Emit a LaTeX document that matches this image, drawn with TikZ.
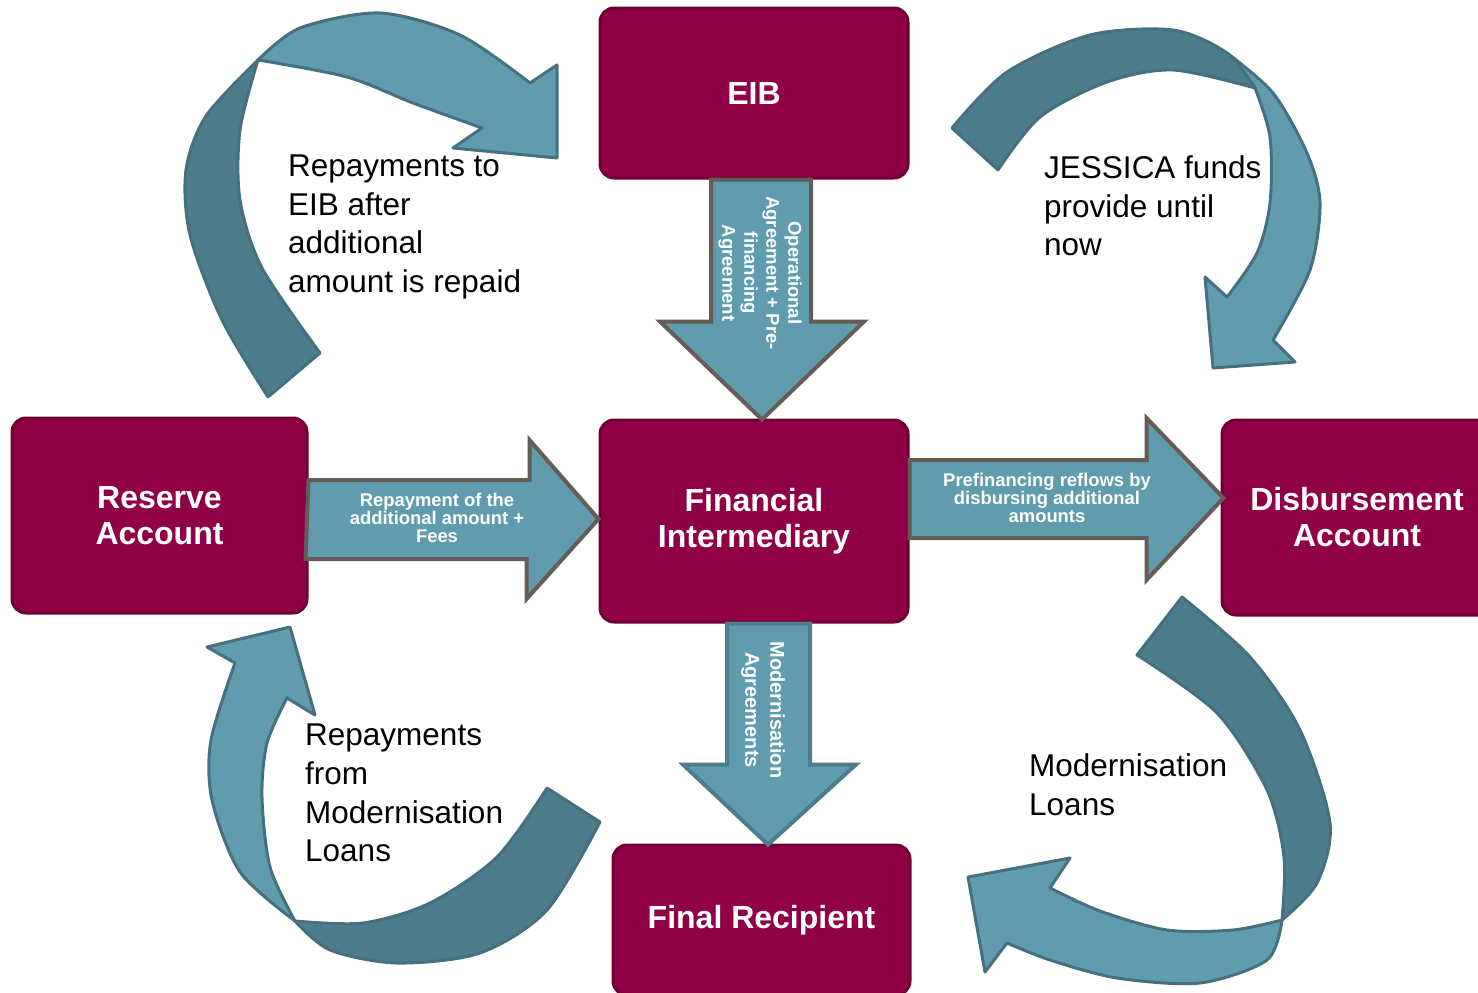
\documentclass[tikz,border=0pt]{standalone}
\usepackage{fontspec}
\setmainfont{Liberation Sans}
\usetikzlibrary{calc}
\definecolor{boxred}{RGB}{143,0,71}
\definecolor{boxedge}{RGB}{112,0,52}
\definecolor{tealfront}{RGB}{96,156,174}
\definecolor{tealback}{RGB}{77,124,138}
\definecolor{tealedge}{RGB}{70,112,128}
\definecolor{greyedge}{RGB}{100,92,85}
\begin{document}
\begin{tikzpicture}[
              x = 1pt, y = -1pt,
              box/.style = {draw = boxedge, line width = 3pt, fill = boxred, rounded corners = 14pt,
                            text = white, align = center, inner sep = 0pt,
                            font = \fontsize{32}{36}\selectfont\bfseries},
              blockarrow/.style = {draw = greyedge, line width = 4pt, fill = tealfront},
              arrowtext/.style = {text = white, align = center, inner sep = 0pt,
                                  font = \fontsize{18.4}{18}\selectfont\bfseries},
              downtext/.style = {arrowtext, rotate = -90, font = \fontsize{18.5}{22}\selectfont\bfseries},
              ribbonback/.style = {draw = tealedge, line width = 3pt, fill = tealback, line join = round},
              ribbonfront/.style = {draw = tealedge, line width = 3pt, fill = tealfront, line join = round},
              remark/.style = {align = left, anchor = west, inner sep = 0pt,
                               font = \fontsize{31.5}{38.7}\selectfont}
            ]
            \useasboundingbox (0,0) rectangle (1478,993);
            \clip (0,0) rectangle (1478,993);
            % curved arrows
            \draw[ribbonback] (268,397) -- plot[smooth] coordinates {(268,397) (222,320) (190,235) (186,170) (206,116) (258,60)}
                              -- plot[smooth] coordinates {(258,60) (240,130) (240,200) (262,268) (320,353)} -- cycle;
            \draw[ribbonfront] (258,60) -- plot[smooth] coordinates {(258,60) (300,28) (380,13) (460,35) (530,83)}
                               -- (557,65) -- (557,158) -- (453,148)
                               -- plot[smooth] coordinates {(482,128) (413,103) (347,77) (258,60)} -- cycle;
            \draw[ribbonfront] (1227,53) -- plot[smooth] coordinates {(1227,53) (1273,93) (1307,153) (1320,203) (1310,270) (1273,340)}
                               -- (1295,362) -- (1213,368) -- (1205,277)
                               -- plot[smooth] coordinates {(1227,297) (1257,253) (1270,203) (1270,137) (1255,88)} -- cycle;
            \draw[ribbonback] (952,128) -- plot[smooth] coordinates {(952,128) (1007,72) (1090,35) (1173,30) (1227,53) (1255,88)}
                              -- plot[smooth] coordinates {(1255,88) (1173,70) (1107,82) (1040,117) (998,170)} -- cycle;
            \draw[ribbonback] (547,788) -- plot[smooth] coordinates {(547,788) (497,857) (430,903) (363,923) (295,921)}
                              -- plot[smooth] coordinates {(295,921) (330,950) (397,963) (480,953) (547,910) (600,822)} -- cycle;
            \draw[ribbonfront] (295,921) -- plot[smooth] coordinates {(295,921) (240,872) (212,800) (211,740) (235,663)}
                               -- (207,647) -- (290,627) -- (315,715)
                               -- plot[smooth] coordinates {(287,698) (267,743) (262,797) (270,867) (295,921)} -- cycle;
            \draw[ribbonback] (1182,597) -- plot[smooth] coordinates {(1182,597) (1250,657) (1300,730) (1330,823) (1317,883) (1282,920)}
                              -- plot[smooth] coordinates {(1282,920) (1284,857) (1267,790) (1217,713) (1137,655)} -- cycle;
            \draw[ribbonfront] (1282,920) -- plot[smooth] coordinates {(1282,920) (1267,960) (1200,983) (1117,978) (1050,960) (1007,943)}
                               -- (985,972) -- (968,877) -- (1070,858)
                               -- plot[smooth] coordinates {(1050,888) (1100,911) (1167,930) (1233,930) (1282,920)} -- cycle;
            % boxes
            \node[box, minimum width = 308pt, minimum height = 170pt] (eib) at (754, 93)    {EIB};
            \node[box, minimum width = 308pt, minimum height = 202pt] (fi)  at (754, 521)   {Financial\\Intermediary};
            \node[box, minimum width = 295pt, minimum height = 195pt] (res) at (159.5, 515.5) {Reserve\\Account};
            \node[box, minimum width = 270pt, minimum height = 195pt] (dis) at (1357, 517.5) {Disbursement\\Account};
            \node[box, minimum width = 297pt, minimum height = 150pt] (fr)  at (761.5, 920) {Final Recipient};
            % block arrows between the boxes
            \draw[blockarrow] ($(eib.south)+(-43,0)$) -- ++(0,142) -- ++(-51,0) -- ++(102,98)
                              -- ++(102,-98) -- ++(-53,0) -- ++(0,-142) -- cycle;
            \draw[blockarrow] ($(res.east |- fi.west)+(0,-41)$) -- ++(221,0) -- ++(0,-40) -- ($(fi.west)+(0,-2)$)
                              -- ++(-72,80) -- ++(0,-40) -- ++(-221,0) -- cycle;
            \draw[blockarrow] ($(fi.east)+(0,-61)$) -- ++(237,0) -- ++(0,-42) -- ++(77,80)
                              -- ++(-77,82) -- ++(0,-42) -- ++(-237,0) -- cycle;
            \draw[blockarrow, draw = tealback] ($(fi.south)+(-27,0)$) -- ++(0,141) -- ++(-44,0) -- ++(85,80)
                              -- ++(88,-80) -- ++(-46,0) -- ++(0,-141) -- cycle;
            % texts on the block arrows
            \node[downtext] (tOper) at (760, 273) {Operational\\Agreement + Pre-\\financing\\Agreement};
            \node[arrowtext] (tRes) at (437, 518) {Repayment of the\\additional amount +\\Fees};
            \node[arrowtext] (tDis) at (1047, 498) {Prefinancing reflows by\\disbursing additional\\amounts};
            \node[downtext, font = \fontsize{20}{25}\selectfont\bfseries] (tMod) at (763, 710) {Modernisation\\Agreements};
            % texts of the curved arrows
            \node[remark] (tRepEib)  at (288, 227)  {Repayments to\\EIB after\\additional\\amount is repaid};
            \node[remark] (tJessica) at (1044, 206) {JESSICA funds\\provide until\\now};
            \node[remark] (tRepMod)  at (305, 793)  {Repayments\\from\\Modernisation\\Loans};
            \node[remark] (tLoans)   at (1029, 785) {Modernisation\\Loans};
          \end{tikzpicture}
\end{document}
